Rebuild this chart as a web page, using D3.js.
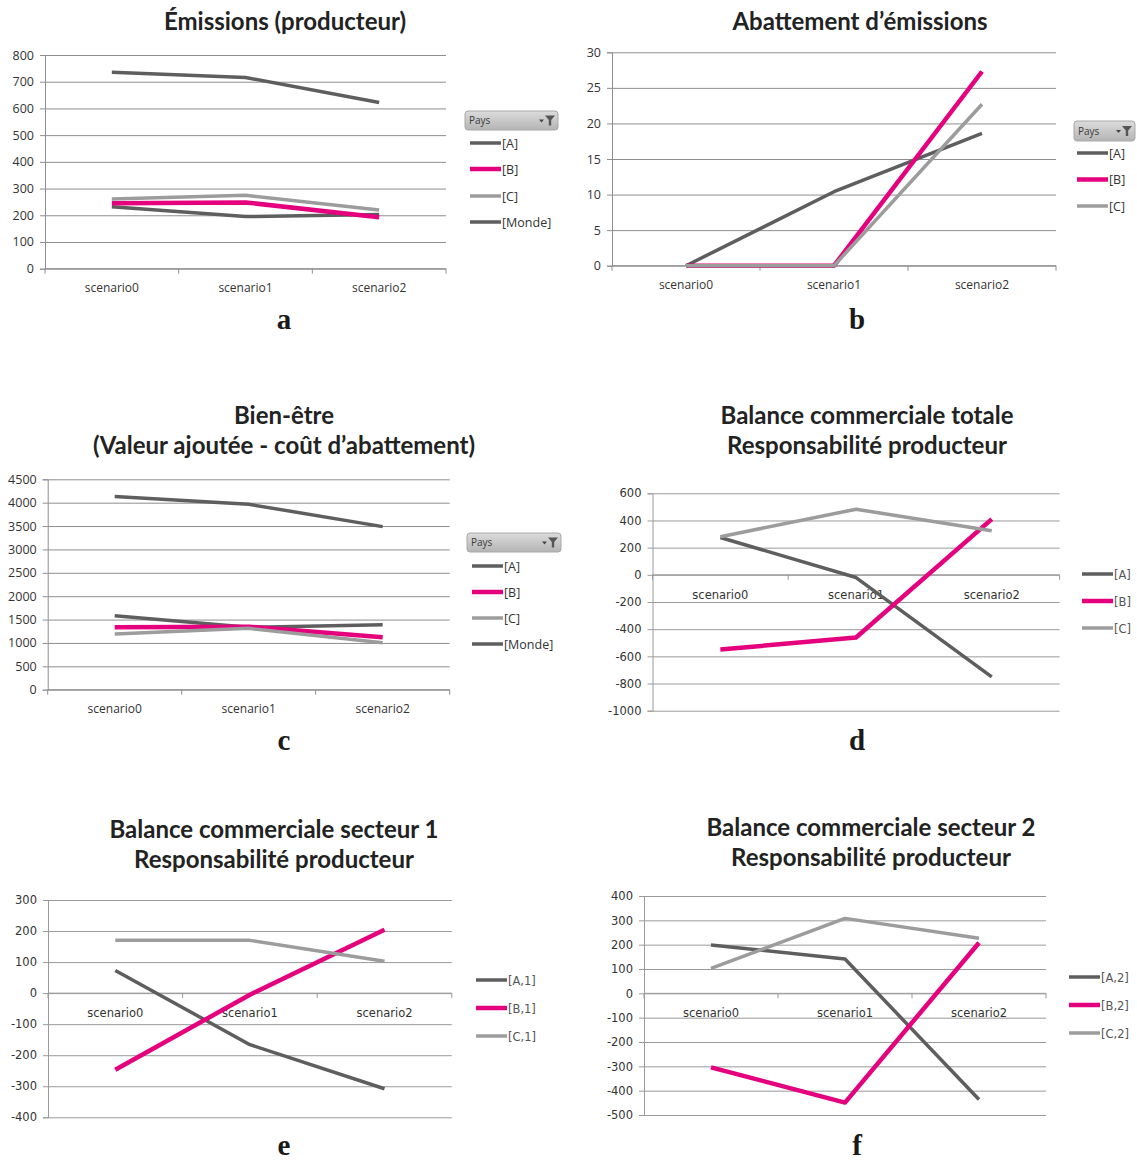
<!DOCTYPE html>
<html>
<head>
<meta charset="utf-8">
<script src="https://cdn.jsdelivr.net/npm/d3@7/dist/d3.min.js"></script>
<style>
  html, body { margin: 0; padding: 0; background: #fff; }
  svg { display: block; }
</style>
</head>
<body>
<svg id="fig" width="1137" height="1160"></svg>
<script>
// Scenario categories shared by every panel
const categories = ["scenario0", "scenario1", "scenario2"];

// a — Émissions (producteur)
const emisA = [232, 195, 203];
const emisB = [245, 248, 193];
const emisC = [261, 275, 220];
const emisMonde = [735, 716, 622];
const emisTicks = [0, 100, 200, 300, 400, 500, 600, 700, 800];

// b — Abattement d'émissions
const abatA = [0, 10.4, 18.6];
const abatB = [0, 0, 27.3];
const abatC = [0, 0, 22.7];
const abatTicks = [0, 5, 10, 15, 20, 25, 30];

// c — Bien-être
const bienA = [1583, 1334, 1391];
const bienB = [1334, 1348, 1120];
const bienC = [1191, 1312, 1006];
const bienMonde = [4130, 3966, 3488];
const bienTicks = [0, 500, 1000, 1500, 2000, 2500, 3000, 3500, 4000, 4500];

// d — Balance commerciale totale
const balA = [275, -20, -751];
const balB = [-550, -461, 410];
const balC = [280, 483, 324];
const balTicks = [-1000, -800, -600, -400, -200, 0, 200, 400, 600];

// e — Balance commerciale secteur 1
const bal1A = [73, -166, -308];
const bal1B = [-247, -5, 204];
const bal1C = [170, 170, 103];
const bal1Ticks = [-400, -300, -200, -100, 0, 100, 200, 300];

// f — Balance commerciale secteur 2
const bal2A = [199, 141, -436];
const bal2B = [-304, -449, 208];
const bal2C = [103, 308, 226];
const bal2Ticks = [-500, -400, -300, -200, -100, 0, 100, 200, 300, 400];

const DARK = "#5e5e5e", PINK = "#e5007d", LIGHT = "#9c9c9c";

const panels = [
  { title: ["Émissions (producteur)"], titleX: 285, titleY: 30, letter: "a", letterX: 284, letterY: 329,
    box: [45, 446, 55, 268.7], ticks: emisTicks, style: "xl", header: true,
    legend: { x: 470, y: [143, 169, 196, 222], hdr: [465, 111, 93, 19] },
    series: [["[A]", emisA, DARK], ["[B]", emisB, PINK], ["[C]", emisC, LIGHT], ["[Monde]", emisMonde, DARK]] },
  { title: ["Abattement d’émissions"], titleX: 860, titleY: 30, letter: "b", letterX: 857, letterY: 329,
    box: [612, 1056, 52.3, 265.7], ticks: abatTicks, style: "xl", header: true,
    legend: { x: 1077, y: [153, 179.5, 206], hdr: [1074, 121, 61, 20] },
    series: [["[A]", abatA, DARK], ["[B]", abatB, PINK], ["[C]", abatC, LIGHT]] },
  { title: ["Bien-être", "(Valeur ajoutée - coût d’abattement)"], titleX: 284, titleY: 424, letter: "c", letterX: 284, letterY: 750,
    box: [47.7, 449.7, 479.3, 689.7], ticks: bienTicks, style: "xl", header: true,
    legend: { x: 472, y: [566, 592, 618, 644], hdr: [467, 533, 94, 19] },
    series: [["[A]", bienA, DARK], ["[B]", bienB, PINK], ["[C]", bienC, LIGHT], ["[Monde]", bienMonde, DARK]] },
  { title: ["Balance commerciale totale", "Responsabilité producteur"], titleX: 867, titleY: 424, letter: "d", letterX: 857, letterY: 750,
    box: [652.5, 1059.6, 493.3, 710.7], ticks: balTicks, style: "lo", header: false,
    legend: { x: 1082, y: [574, 601, 628] },
    series: [["[A]", balA, DARK], ["[B]", balB, PINK], ["[C]", balC, LIGHT]] },
  { title: ["Balance commerciale secteur 1", "Responsabilité producteur"], titleX: 274, titleY: 838, letter: "e", letterX: 284, letterY: 1155,
    box: [48, 451.8, 900, 1117.3], ticks: bal1Ticks, style: "lo", header: false,
    legend: { x: 476, y: [980, 1008, 1036] },
    series: [["[A,1]", bal1A, DARK], ["[B,1]", bal1B, PINK], ["[C,1]", bal1C, LIGHT]] },
  { title: ["Balance commerciale secteur 2", "Responsabilité producteur"], titleX: 871, titleY: 836, letter: "f", letterX: 857, letterY: 1155,
    box: [644, 1046, 896, 1115], ticks: bal2Ticks, style: "lo", header: false,
    legend: { x: 1069, y: [977, 1005, 1033] },
    series: [["[A,2]", bal2A, DARK], ["[B,2]", bal2B, PINK], ["[C,2]", bal2C, LIGHT]] }
];

const svg = d3.select("#fig");

// Gradient for the "Pays" field button
const defs = svg.append("defs");
const grad = defs.append("linearGradient").attr("id", "hdrGrad").attr("x1", 0).attr("y1", 0).attr("x2", 0).attr("y2", 1);
grad.append("stop").attr("offset", "0%").attr("stop-color", "#dcdcdc");
grad.append("stop").attr("offset", "100%").attr("stop-color", "#b4b4b4");

const FONT_XL = "'Open Sans', sans-serif";
const FONT_LO = "'DejaVu Sans', sans-serif";

// plain hyphen for negative tick values
const fmt = d => String(d);

panels.forEach(p => {
  const [x0, x1, y0, y1] = p.box;
  const g = svg.append("g");
  const font = p.style === "xl" ? FONT_XL : FONT_LO;
  const tickFs = p.style === "xl" ? 12.5 : 11.5;
  const gridColor = p.style === "xl" ? "#8e8e8e" : "#9a9a9a";

  const x = d3.scaleBand().domain(categories).range([x0, x1]);
  const y = d3.scaleLinear().domain(d3.extent(p.ticks)).range([y1, y0]);

  // horizontal gridlines
  g.append("g")
    .attr("transform", `translate(${x0},0)`)
    .call(d3.axisLeft(y).tickValues(p.ticks).tickSize(-(x1 - x0)).tickFormat(""))
    .call(a => a.select(".domain").remove())
    .call(a => a.selectAll("line").attr("stroke", gridColor).attr("stroke-width", 1));

  // value axis with tick labels
  g.append("g")
    .attr("transform", `translate(${x0},0)`)
    .call(d3.axisLeft(y).tickValues(p.ticks).tickSize(5).tickPadding(6).tickFormat(fmt))
    .call(a => a.select(".domain").attr("stroke", gridColor))
    .call(a => a.selectAll("line").attr("stroke", gridColor))
    .call(a => a.selectAll("text").attr("fill", "#333").style("font-family", font).style("font-size", tickFs + "px"));

  // category axis on the zero line, ticks between categories
  const zeroY = y(0);
  g.append("line").attr("x1", x0).attr("x2", x1).attr("y1", zeroY).attr("y2", zeroY)
    .attr("stroke", gridColor).attr("stroke-width", 1);
  const bounds = d3.range(categories.length + 1).map(i => x0 + i * x.step());
  g.selectAll(".ctick").data(bounds).join("line")
    .attr("x1", d => d).attr("x2", d => d).attr("y1", zeroY).attr("y2", zeroY + 5)
    .attr("stroke", gridColor);
  g.append("g")
    .attr("transform", `translate(0,${zeroY})`)
    .call(d3.axisBottom(x).tickSize(0).tickPadding(p.style === "xl" ? 15 : 16))
    .call(a => a.select(".domain").remove())
    .call(a => a.selectAll("text").attr("fill", "#333").style("font-family", font).style("font-size", (p.style === "xl" ? 12 : 11.5) + "px"));

  // series lines
  const line = d3.line().x((d, i) => x(categories[i]) + x.bandwidth() / 2).y(d => y(d));
  p.series.forEach(([name, vals, col]) => {
    g.append("path").datum(vals).attr("d", line)
      .attr("fill", "none").attr("stroke", col)
      .attr("stroke-width", col === PINK ? 4.5 : 3.5)
      .attr("stroke-linejoin", "round");
  });

  // legend
  const L = p.legend;
  if (p.header) {
    const [hx, hy, hw, hh] = L.hdr;
    const h = g.append("g");
    h.append("rect").attr("x", hx).attr("y", hy).attr("width", hw).attr("height", hh)
      .attr("rx", 3).attr("fill", "url(#hdrGrad)").attr("stroke", "#a8a8a8");
    h.append("text").attr("x", hx + 4).attr("y", hy + hh / 2 + 3.5).text("Pays")
      .attr("fill", "#3a3a3a").style("font-family", FONT_XL).style("font-size", "10px");
    // dropdown arrow and funnel icon
    const ix = hx + hw - 18, iy = hy + hh / 2;
    h.append("path").attr("d", `M${ix - 1},${iy - 1} l5,0 l-2.5,3 z`).attr("fill", "#444");
    h.append("path").attr("d", `M${ix + 5},${iy - 5} l10,0 l-3.8,4.5 l0,5.5 l-2.4,0 l0,-5.5 z`).attr("fill", "#555");
  }
  p.series.forEach(([name, vals, col], i) => {
    const ly = L.y[i];
    g.append("line").attr("x1", L.x).attr("x2", L.x + 31).attr("y1", ly).attr("y2", ly)
      .attr("stroke", col).attr("stroke-width", col === PINK ? 4.5 : 3.5);
    g.append("text").attr("x", L.x + 32).attr("y", ly + 4.5).text(name)
      .attr("fill", p.style === "xl" ? "#333" : "#555")
      .style("font-family", font).style("font-size", (p.style === "xl" ? 12.5 : 11.5) + "px");
  });

  // title
  p.title.forEach((t, i) => {
    svg.append("text").attr("x", p.titleX).attr("y", p.titleY + i * 30).attr("text-anchor", "middle")
      .text(t).attr("fill", "#222")
      .style("font-family", "Lato, 'Open Sans', sans-serif").style("font-weight", "bold").style("font-size", "24px");
  });

  // panel letter
  svg.append("text").attr("x", p.letterX).attr("y", p.letterY).attr("text-anchor", "middle")
    .text(p.letter).attr("fill", "#1a1a1a")
    .style("font-family", "'Liberation Serif', serif").style("font-weight", "bold").style("font-size", "29px");
});
</script>
</body>
</html>
